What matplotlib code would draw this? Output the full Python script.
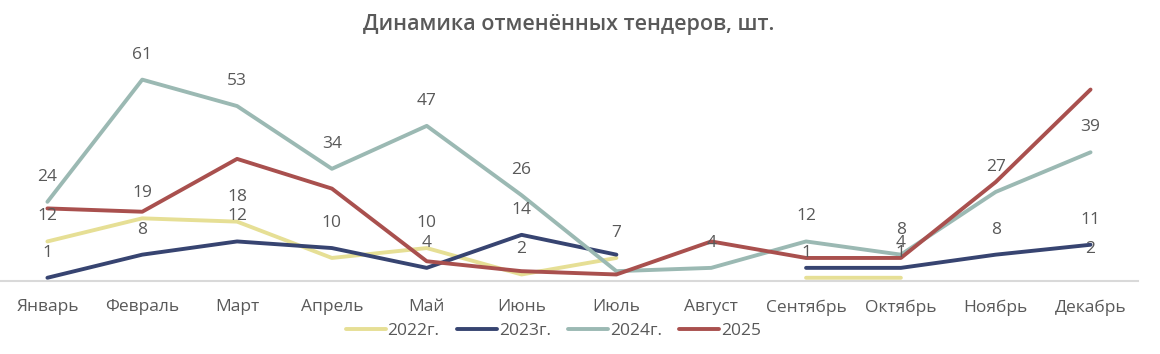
import numpy as np
import matplotlib.pyplot as plt

plt.rcParams['font.family'] = ['Open Sans', 'DejaVu Sans']

# Месяцы
months = ['Январь', 'Февраль', 'Март', 'Апрель', 'Май', 'Июнь',
          'Июль', 'Август', 'Сентябрь', 'Октябрь', 'Ноябрь', 'Декабрь']

# Значения (None - нет данных)
v2022 = [12, 19, 18, 7, 10, 2, 7, None, 1, 1, None, 2]
v2023 = [1, 8, 12, 10, 4, 14, 8, None, 4, 4, 8, 11]
v2024 = [24, 61, 53, 34, 47, 26, 3, 4, 12, 8, 27, 39]
v2025 = [22, 21, 37, 28, 6, 3, 2, 12, 7, 7, 30, 58]

# Подписи данных (None - без подписи)
lab2022 = [12, 19, 18, None, 10, 2, 7, None, 1, 1, None, 2]
lab2023 = [1, 8, 12, 10, 4, 14, None, None, None, 4, 8, 11]
lab2024 = [24, 61, 53, 34, 47, 26, None, 4, 12, 8, 27, 39]
lab2025 = [None] * 12

names = ['2022г.', '2023г.', '2024г.', '2025']
colors = ['#E6DF95', '#374471', '#9BB9B3', '#A9504E']
text_c = '#595959'

fig = plt.figure(figsize=(11.6, 3.54), dpi=100)
ax = fig.add_axes([0.0, 0.206, 0.981, 0.653])

x = np.arange(len(months))
series = [v2022, v2023, v2024, v2025]
labels = [lab2022, lab2023, lab2024, lab2025]
for vals, labs, name, c in zip(series, labels, names, colors):
    y = np.array([np.nan if v is None else v for v in vals], dtype=float)
    ax.plot(x, y, color=c, lw=2.8, label=name, solid_capstyle='round')
    for i, lb in enumerate(labs):
        if lb is not None:
            ax.annotate(str(lb), (x[i], y[i]), xytext=(0, 18), textcoords='offset points',
                        ha='center', va='center', fontsize=12.5, color=text_c)

ax.set_xlim(-0.5, 11.5)
ax.set_ylim(0, 70)
ax.set_xticks(x)
ax.set_xticklabels(months, fontsize=12.5, color=text_c)
ax.tick_params(axis='x', length=0, pad=13)
ax.set_yticks([])
for s in ['top', 'right', 'left']:
    ax.spines[s].set_visible(False)
ax.spines['bottom'].set_color('#D9D9D9')
ax.spines['bottom'].set_linewidth(1.5)

fig.text(0.49, 0.93, 'Динамика отменённых тендеров, шт.', ha='center', va='center',
         fontsize=15.5, fontweight='semibold', color=text_c)

fig.legend(loc='center', bbox_to_anchor=(0.477, 0.065), ncol=4, frameon=False,
           fontsize=12.5, labelcolor=text_c, handlelength=2.3, handletextpad=0.1,
           columnspacing=1.0)

plt.savefig('out.png')
